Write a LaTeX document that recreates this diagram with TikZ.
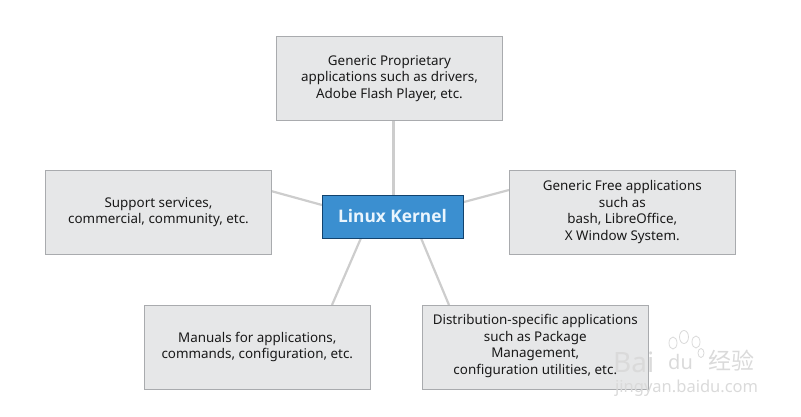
\documentclass[tikz,border=0pt]{standalone}
\usepackage{fontspec}
\setmainfont{Noto Sans}
\newfontfamily\titlefont{Open Sans}
\newfontfamily\cjkwm{Noto Sans CJK SC}
\definecolor{boxfill}{HTML}{E6E7E8}
\definecolor{boxline}{HTML}{A9ABAE}
\definecolor{linkline}{HTML}{CDCDCD}
\definecolor{kernelfill}{HTML}{3B8FD0}
\definecolor{kernelline}{HTML}{12436E}
\definecolor{kerneltext}{HTML}{EAF5FD}
\definecolor{wm}{HTML}{DADADA}
\tikzset{
  x=1pt,y=-1pt,
  infobox/.style={draw=boxline,fill=boxfill,line width=1pt,minimum width=225.5pt,minimum height=84pt,
    inner sep=0pt,align=center,text=black!90,font=\fontsize{13.4}{16.6}\selectfont},
  kernelbox/.style={draw=kernelline,fill=kernelfill,line width=1pt,minimum width=141pt,minimum height=43pt,
    inner sep=0pt,text=kerneltext,font=\titlefont\fontsize{17.3}{20}\selectfont\bfseries},
  linkpath/.style={draw=linkline,line width=2.2pt},
  wmtext/.style={text=wm,inner sep=0pt},
  pawpart/.style={draw=wm,line width=0.8pt}
}
\begin{document}
\begin{tikzpicture}
\useasboundingbox (0,0) rectangle (801,416);
\coordinate (kt) at (393.5,195);
\coordinate (kl) at (322,205);
\coordinate (kr) at (464,202);
\coordinate (kbl) at (361,238);
\coordinate (kbr) at (421,238);
\coordinate (bt) at (393.5,120);
\coordinate (bl) at (271,191);
\coordinate (br) at (509,190);
\coordinate (bbl) at (332,305);
\coordinate (bbr) at (449,305);
\draw[linkpath] (kt) -- (bt);
\draw[linkpath] (kl) -- (bl);
\draw[linkpath] (kr) -- (br);
\draw[linkpath] (kbl) -- (bbl);
\draw[linkpath] (kbr) -- (bbr);
\node[infobox] (top) at (389.5,78.5) {Generic Proprietary\\applications such as drivers,\\Adobe Flash Player, etc.};
\node[infobox] (left) at (158.5,212) {Support services,\\commercial, community, etc.};
\node[infobox] (right) at (622.3,212) {Generic Free applications\\such as\\bash, LibreOffice,\\X Window System.};
\node[infobox] (lowleft) at (257.3,347) {Manuals for applications,\\commands, configuration, etc.};
\node[infobox] (lowright) at (535.3,347) {Distribution-specific applications\\such as Package\\Management,\\configuration utilities, etc.\rule[-5pt]{0pt}{5pt}};
\node[kernelbox] (kernel) at (392.5,216.5) {Linux Kernel};
\node[wmtext,font=\fontsize{28}{28}\selectfont,anchor=west] (wma) at (613,362) {Bai};
\node[wmtext,font=\fontsize{20}{20}\selectfont,anchor=west] (wmb) at (668,362) {du};
\node[wmtext,font=\cjkwm\fontsize{23}{23}\selectfont,anchor=west] (wmc) at (708,361) {经验};
\node[wmtext,font=\fontsize{16.5}{16.5}\selectfont,anchor=west] (wmd) at (615,388) {jingyan.baidu.com};
\draw[pawpart] (673,343) ellipse (4 and 6);
\draw[pawpart] (684,337) ellipse (4.5 and 6.5);
\draw[pawpart] (696,342) ellipse (4 and 6);
\draw[pawpart] (701,353) ellipse (3 and 4.5);
\end{tikzpicture}
\end{document}
